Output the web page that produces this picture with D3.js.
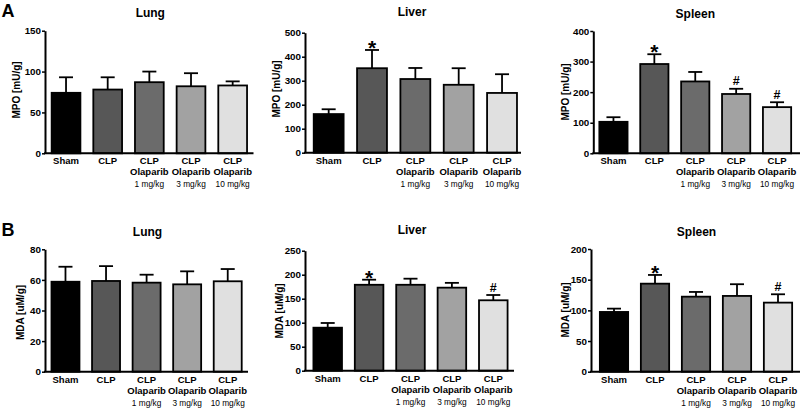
<!DOCTYPE html>
<html>
<head>
<meta charset="utf-8">
<script src="https://cdn.jsdelivr.net/npm/d3@7"></script>
<style>
  html, body { margin: 0; padding: 0; background: #fff; }
  svg { display: block; font-family: "Liberation Sans", Arial, Helvetica, sans-serif; }
</style>
</head>
<body>
<svg id="chart" width="800" height="409"></svg>
<script>
// ---------- DATA ----------
const categories = ["Sham", "CLP", "CLP Olaparib 1 mg/kg", "CLP Olaparib 3 mg/kg", "CLP Olaparib 10 mg/kg"];
const labelLine1 = ["Sham", "CLP", "CLP", "CLP", "CLP"];
const labelLine2 = ["", "", "Olaparib", "Olaparib", "Olaparib"];
const labelLine3 = ["", "", "1 mg/kg", "3 mg/kg", "10 mg/kg"];
const barColors = ["#000000", "#575757", "#6b6b6b", "#a2a2a2", "#e0e0e0"];

const mpoLungMean  = [74, 78, 87, 82, 83];
const mpoLungErr   = [19, 15, 13, 16, 5];
const mpoLiverMean = [161, 352, 307, 283, 249];
const mpoLiverErr  = [20, 76, 46, 69, 78];
const mpoSpleenMean = [103, 292, 235, 194, 151];
const mpoSpleenErr  = [15, 32, 31, 17, 16];

const mdaLungMean  = [58.8, 59.3, 58.2, 57.1, 59.1];
const mdaLungErr   = [9.8, 9.7, 5.2, 8.5, 8.0];
const mdaLiverMean = [89.6, 179, 179, 173, 146.7];
const mdaLiverErr  = [9.8, 10.6, 12.7, 10, 11];
const mdaSpleenMean = [97.4, 143.5, 122.3, 123.5, 112.6];
const mdaSpleenErr  = [5.4, 14.2, 7.7, 19.1, 13.6];

const noMarks        = ["", "", "", "", ""];
const mpoLiverMarks  = ["", "*", "", "", ""];
const mpoSpleenMarks = ["", "*", "", "#", "#"];
const mdaLiverMarks  = ["", "*", "", "", "#"];
const mdaSpleenMarks = ["", "*", "", "", "#"];

const mpoLungTicks   = [0, 50, 100, 150];
const mpoLiverTicks  = [0, 100, 200, 300, 400, 500];
const mpoSpleenTicks = [0, 100, 200, 300, 400];
const mdaLungTicks   = [0, 20, 40, 60, 80];
const mdaLiverTicks  = [0, 50, 100, 150, 200, 250];
const mdaSpleenTicks = [0, 50, 100, 150, 200];

// ---------- LAYOUT ----------
const panels = [
  { title: "Lung",   yLabel: "MPO [mU/g]", mean: mpoLungMean,   err: mpoLungErr,   marks: noMarks,        ticks: mpoLungTicks,
    axisX: 45,    y0: 153.3, yTop: 30.7,  bandStart: 45.2,  bandEnd: 253.5, axisEnd: 253.5,
    titleX: 150.3, titleY: 17, labX: 20,    labY: 90,  labelDy: [10.5, 21.5, 33.5] },
  { title: "Liver",  yLabel: "MPO [mU/g]", mean: mpoLiverMean,  err: mpoLiverErr,  marks: mpoLiverMarks,  ticks: mpoLiverTicks,
    axisX: 305,   y0: 152.7, yTop: 32.7,  bandStart: 307,   bandEnd: 523.7, axisEnd: 521,
    titleX: 412,   titleY: 16, labX: 280,   labY: 89,  labelDy: [11, 22, 34] },
  { title: "Spleen", yLabel: "MPO [mU/g]", mean: mpoSpleenMean, err: mpoSpleenErr, marks: mpoSpleenMarks, ticks: mpoSpleenTicks,
    axisX: 593.3, y0: 153.3, yTop: 31,    bandStart: 593,   bandEnd: 797.5, axisEnd: 800,
    titleX: 695.3, titleY: 17.6, labX: 568.5, labY: 92,  labelDy: [10.5, 21.5, 33.5] },
  { title: "Lung",   yLabel: "MDA [uM/g]", mean: mdaLungMean,   err: mdaLungErr,   marks: noMarks,        ticks: mdaLungTicks,
    axisX: 45,    y0: 371.7, yTop: 249.3, bandStart: 45.2,  bandEnd: 248,   axisEnd: 248,
    titleX: 147.5, titleY: 236, labX: 24,   labY: 312.5, labelDy: [11, 22, 34] },
  { title: "Liver",  yLabel: "MDA [uM/g]", mean: mdaLiverMean,  err: mdaLiverErr,  marks: mdaLiverMarks,  ticks: mdaLiverTicks,
    axisX: 305,   y0: 370.7, yTop: 250.7, bandStart: 307,   bandEnd: 514,   axisEnd: 514,
    titleX: 412,   titleY: 233.6, labX: 282.5, labY: 311, labelDy: [11, 22, 34] },
  { title: "Spleen", yLabel: "MDA [uM/g]", mean: mdaSpleenMean, err: mdaSpleenErr, marks: mdaSpleenMarks, ticks: mdaSpleenTicks,
    axisX: 591,   y0: 371.7, yTop: 249,   bandStart: 593.5, bandEnd: 798.5, axisEnd: 800,
    titleX: 696.5, titleY: 236, labX: 569,  labY: 310, labelDy: [11, 22, 34] }
];

const svg = d3.select("#chart");

// Panel letters
svg.append("text").attr("x", 1.5).attr("y", 17).attr("font-size", 18).attr("font-weight", "bold").text("A");
svg.append("text").attr("x", 1.5).attr("y", 235.5).attr("font-size", 18).attr("font-weight", "bold").text("B");

panels.forEach(p => {
  const g = svg.append("g");
  const yMax = p.ticks[p.ticks.length - 1];
  const y = d3.scaleLinear().domain([0, yMax]).range([p.y0, p.yTop]);
  const x = d3.scaleBand().domain(categories).range([p.bandStart, p.bandEnd])
    .paddingInner(0.31).paddingOuter(0.155);
  const bw = x.bandwidth();
  const capW = 14;

  // error bars (upper only), drawn behind bars
  categories.forEach((c, i) => {
    const cx = x(c) + bw / 2;
    const top = y(p.mean[i] + p.err[i]);
    g.append("line").attr("x1", cx).attr("x2", cx).attr("y1", y(p.mean[i])).attr("y2", top)
      .attr("stroke", "#000").attr("stroke-width", 1.8);
    g.append("line").attr("x1", cx - capW / 2).attr("x2", cx + capW / 2).attr("y1", top).attr("y2", top)
      .attr("stroke", "#000").attr("stroke-width", 1.8);
  });

  // bars
  g.selectAll("rect.bar").data(categories).join("rect")
    .attr("class", "bar")
    .attr("x", c => x(c))
    .attr("width", bw)
    .attr("y", (c, i) => y(p.mean[i]))
    .attr("height", (c, i) => p.y0 - y(p.mean[i]))
    .attr("fill", (c, i) => barColors[i])
    .attr("stroke", "#000")
    .attr("stroke-width", 1.8);

  // significance marks
  categories.forEach((c, i) => {
    const m = p.marks[i];
    if (!m) return;
    const cx = x(c) + bw / 2;
    const top = y(p.mean[i] + p.err[i]);
    if (m === "*") {
      g.append("text").attr("x", cx).attr("y", top + 5).attr("text-anchor", "middle")
        .attr("font-size", 21).attr("font-weight", "bold").text("*");
    } else {
      g.append("text").attr("x", cx).attr("y", top - 3.5).attr("text-anchor", "middle")
        .attr("font-size", 12.5).attr("font-weight", "bold").text("#");
    }
  });

  // y axis
  const yAxis = d3.axisLeft(y).tickValues(p.ticks).tickSize(3).tickSizeOuter(0).tickPadding(1);
  const ya = g.append("g").attr("transform", `translate(${p.axisX},0)`).call(yAxis);
  ya.select(".domain").attr("stroke", "#000").attr("stroke-width", 2);
  ya.selectAll(".tick line").attr("stroke", "#000").attr("stroke-width", 1.5);
  ya.selectAll(".tick text").attr("font-size", 9.8).attr("font-weight", "bold")
    .attr("font-family", "'Liberation Sans', Arial, sans-serif").attr("fill", "#000");

  // x axis line
  g.append("line").attr("x1", p.axisX - 1).attr("x2", p.axisEnd).attr("y1", p.y0).attr("y2", p.y0)
    .attr("stroke", "#000").attr("stroke-width", 2);

  // x labels
  categories.forEach((c, i) => {
    const cx = x(c) + bw / 2;
    g.append("text").attr("x", cx).attr("y", p.y0 + p.labelDy[0]).attr("text-anchor", "middle")
      .attr("font-size", 9.5).attr("font-weight", "bold").text(labelLine1[i]);
    if (labelLine2[i]) {
      g.append("text").attr("x", cx).attr("y", p.y0 + p.labelDy[1]).attr("text-anchor", "middle")
        .attr("font-size", 9.5).attr("font-weight", "bold").text(labelLine2[i]);
    }
    if (labelLine3[i]) {
      g.append("text").attr("x", cx).attr("y", p.y0 + p.labelDy[2]).attr("text-anchor", "middle")
        .attr("font-size", 8.3).text(labelLine3[i]);
    }
  });

  // title
  g.append("text").attr("x", p.titleX).attr("y", p.titleY).attr("text-anchor", "middle")
    .attr("font-size", 12).attr("font-weight", "bold").text(p.title);

  // y label
  g.append("text").attr("transform", `translate(${p.labX},${p.labY}) rotate(-90)`)
    .attr("text-anchor", "middle").attr("font-size", 10).attr("font-weight", "bold").text(p.yLabel);
});
</script>
</body>
</html>
